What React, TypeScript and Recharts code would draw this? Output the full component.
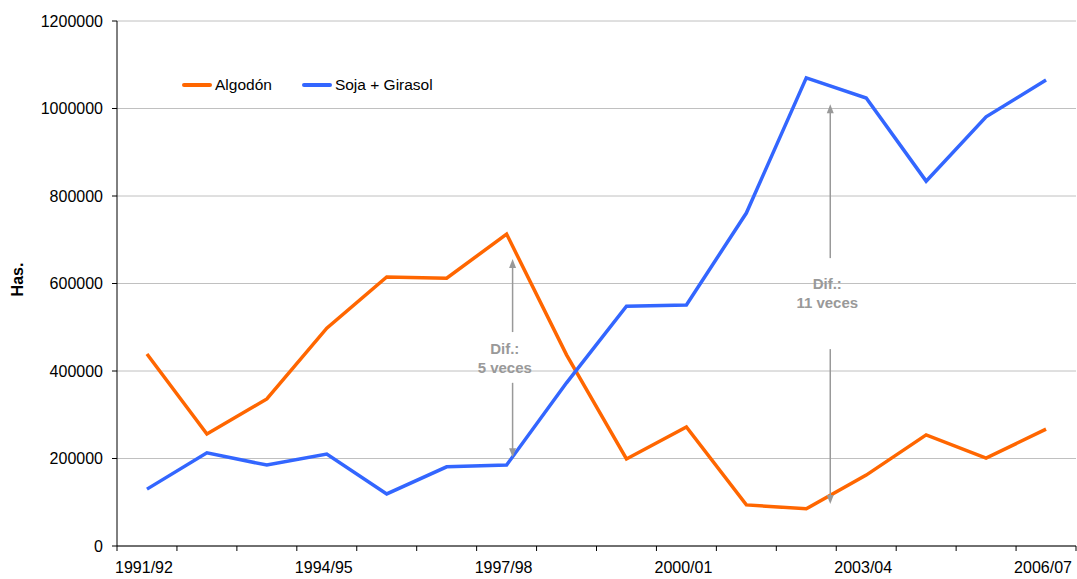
import React from 'react';
import { LineChart, Line, XAxis, YAxis, CartesianGrid, Legend, ReferenceLine, ReferenceDot } from 'recharts';

const campaigns = ['1991/92', '1992/93', '1993/94', '1994/95', '1995/96', '1996/97', '1997/98', '1998/99',
    '1999/00', '2000/01', '2001/02', '2002/03', '2003/04', '2004/05', '2005/06', '2006/07'];
const algodon = [439000, 256000, 336000, 498000, 615000, 612000, 713000, 437000,
    199000, 272000, 94000, 85000, 162000, 254000, 201000, 267000];
const sojaGirasol = [130000, 213000, 185000, 210000, 119000, 181000, 185000, 373000,
    548000, 551000, 761000, 1070000, 1024000, 834000, 981000, 1065000];
const yTicks = [0, 200000, 400000, 600000, 800000, 1000000, 1200000];
const labelIdx = [0, 3, 6, 9, 12, 15];

const data = campaigns.map((c, i) => ({ i, name: c, algodon: algodon[i], soja: sojaGirasol[i] }));
const boundaries = campaigns.map((_, i) => i - 0.5).concat([campaigns.length - 0.5]);
const domain: [number, number] = [-0.5, campaigns.length - 0.5];

const FONT = '"Liberation Sans", Arial, sans-serif';
const NOTE = '#999999';

const Arrow = (props: any) => {
    const { x1, y1, x2, y2 } = props;
    const dir = y2 > y1 ? 1 : -1;
    return (
        <g>
            <line x1={x1} y1={y1 + dir * 6} x2={x2} y2={y2} stroke={NOTE} strokeWidth={1.5} />
            <polygon points={`${x1},${y1} ${x1 - 3.5},${y1 + dir * 9} ${x1 + 3.5},${y1 + dir * 9}`} fill={NOTE} />
        </g>
    );
};

const note = (line2: string) => (props: any) => (
    <text x={props.cx} y={props.cy} textAnchor="middle" fill={NOTE} fontFamily={FONT} fontSize={15} fontWeight="bold">
        <tspan x={props.cx} dy="0">Dif.:</tspan>
        <tspan x={props.cx} dy="19">{line2}</tspan>
    </text>
);

const LegendBox = (props: any) => (
    <div style={{ display: 'flex', fontFamily: FONT, fontSize: 15.5, color: '#000' }}>
        {props.payload.map((p: any) => (
            <div key={p.value} style={{ display: 'flex', alignItems: 'center', marginRight: 30 }}>
                <span style={{ display: 'inline-block', width: 30, height: 4, background: p.color, borderRadius: 2, marginRight: 3 }} />
                {p.value}
            </div>
        ))}
    </div>
);

export default function App() {
    return (
        <div style={{ position: 'absolute', left: 0, top: 0, background: '#fff', width: 1077, height: 579 }}>
            <LineChart width={1077} height={579} data={data} margin={{ top: 21, right: 1, left: 0, bottom: 0 }}>
                <CartesianGrid vertical={false} stroke="#c0c0c0" />
                <XAxis xAxisId="top" orientation="top" type="number" dataKey="i" domain={domain} tick={false}
                    tickLine={false} height={0} stroke="#808080" />
                <XAxis dataKey="i" type="number" domain={domain} ticks={boundaries} tickFormatter={() => ''}
                    height={8} tickSize={5} stroke="#000" interval={0} />
                <XAxis xAxisId="lbl" dataKey="i" type="number" domain={domain} ticks={labelIdx}
                    tickFormatter={(v) => campaigns[v] ?? ''} axisLine={false} tickLine={false} tickSize={0}
                    tickMargin={8} height={25} interval={0}
                    tick={{ fill: '#000', fontSize: 16, fontFamily: FONT, dx: -3 }} />
                <YAxis domain={[0, 1200000]} ticks={yTicks} width={117} tickSize={5} tickMargin={9} stroke="#000"
                    interval={0} tick={{ fill: '#000', fontSize: 16, fontFamily: FONT }}
                    label={{ value: 'Has.', angle: -90, position: 'insideLeft', offset: 17, dy: -4,
                        style: { fontFamily: FONT, fontSize: 16, fontWeight: 'bold', fill: '#000', textAnchor: 'middle' } }} />
                <YAxis yAxisId="right" orientation="right" domain={[0, 1200000]} tick={false} tickLine={false}
                    width={0} stroke="#808080" />
                <Legend verticalAlign="middle" align="center" layout="horizontal" content={LegendBox}
                    wrapperStyle={{ top: 76, left: 182, width: 'auto' }} />
                <Line dataKey="algodon" name="Algodón" stroke="#ff6600" strokeWidth={3.5} dot={false}
                    isAnimationActive={false} />
                <Line dataKey="soja" name="Soja + Girasol" stroke="#3366ff" strokeWidth={3.5} dot={false}
                    isAnimationActive={false} />
                <ReferenceLine segment={[{ x: 6.1, y: 656000 }, { x: 6.1, y: 489000 }]} shape={Arrow} />
                <ReferenceLine segment={[{ x: 6.1, y: 203000 }, { x: 6.1, y: 373000 }]} shape={Arrow} />
                <ReferenceDot x={5.97} y={440000} r={0} shape={note('5 veces')} />
                <ReferenceLine segment={[{ x: 11.4, y: 1010000 }, { x: 11.4, y: 658000 }]} shape={Arrow} />
                <ReferenceLine segment={[{ x: 11.4, y: 96000 }, { x: 11.4, y: 450000 }]} shape={Arrow} />
                <ReferenceDot x={11.35} y={588000} r={0} shape={note('11 veces')} />
            </LineChart>
        </div>
    );
}
